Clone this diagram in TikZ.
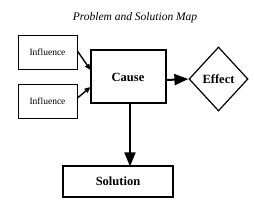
\documentclass[tikz,border=0pt]{standalone}
\usepackage{fontspec}
\setmainfont{Liberation Serif}
\usetikzlibrary{arrows.meta,shapes.geometric}
\begin{document}
\begin{tikzpicture}[x=1pt,y=-1pt,
  inbox/.style={draw,line width=0.9pt,minimum width=59pt,minimum height=34pt,inner sep=0pt,font=\fontsize{9.5}{11}\selectfont},
  causebox/.style={draw,line width=2pt,minimum width=75pt,minimum height=53pt,inner sep=0pt,font=\bfseries\fontsize{12.5}{14}\selectfont},
  effectbox/.style={draw,diamond,line width=1.2pt,minimum width=59pt,minimum height=64pt,inner sep=0pt,font=\bfseries\fontsize{12.5}{14}\selectfont},
  solbox/.style={draw,line width=1.2pt,minimum width=110pt,minimum height=31pt,inner sep=0pt,font=\bfseries\fontsize{12.5}{14}\selectfont},
  bigarrow/.style={line width=2pt,-{Triangle[length=14pt,width=11pt]}},
  smallarrow/.style={line width=1.4pt,-{Triangle[length=6pt,width=5pt]}}]
\useasboundingbox (0,0) rectangle (254,211);
\node[font=\itshape\fontsize{11.5}{13}\selectfont] (title) at (135,18) {Problem and Solution Map};
\node[inbox] (inf1) at (47.5,52.5) {Influence};
\node[inbox] (inf2) at (47.5,101.5) {Influence};
\node[causebox] (cause) at (128,77) {Cause};
\node[effectbox] (effect) at (218.5,79) {Effect};
\node[solbox] (sol) at (118,181.5) {Solution};
\draw[bigarrow] (cause.east |- 0,80) -- (effect.west);
\draw[bigarrow] (130,104) -- (130,166.4);
\draw[smallarrow] (inf1.east |- 0,51) -- (90.5,70);
\draw[smallarrow] (inf2.east |- 0,98) -- (90.5,87);
\end{tikzpicture}
\end{document}
